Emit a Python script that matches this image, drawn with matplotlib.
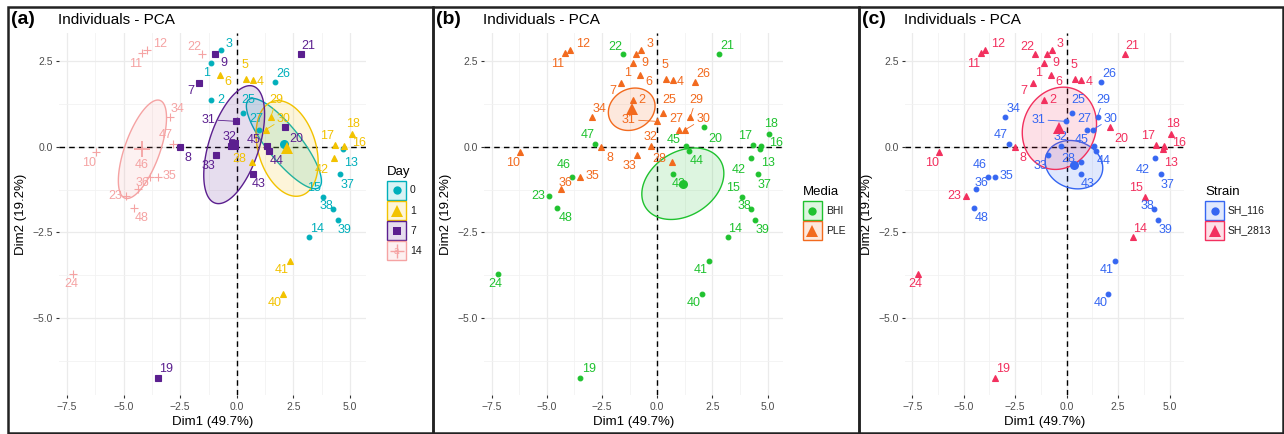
import numpy as np
import matplotlib
matplotlib.use("Agg")
import matplotlib.pyplot as plt
from matplotlib.patches import Polygon, Rectangle
from matplotlib.lines import Line2D

plt.rcParams["font.family"] = ["Liberation Sans", "DejaVu Sans"]

# PCA individuals (coordinates)
sample_ids = list(range(1, 49))
dim1 = [-1.12, -1.12, -0.72, 0.70, 0.42, -0.76, -1.65, -2.53, -0.96, -6.20,
        -4.18, -3.95, 4.68, 3.20, 3.82, 4.72, 4.35, 5.07, -3.48, 2.13,
        2.82, -1.55, -4.90, -7.22, 0.26, 1.69, 0.98, 0.68, 1.50, 1.28,
        -0.03, -0.27, -0.92, -2.97, -3.50, -4.38, 4.57, 4.23, 4.45, 2.03,
        2.36, 4.27, 0.71, 1.44, 1.32, -3.84, -2.80, -4.52]
dim2 = [2.45, 1.37, 2.83, 1.94, 1.98, 2.08, 1.87, -0.02, 2.71, -0.15,
        2.73, 2.81, -0.08, -2.62, -1.48, 0.01, 0.04, 0.37, -6.75, 0.58,
        2.69, 2.69, -1.45, -3.70, 0.99, 1.90, 0.50, -0.44, 0.87, 0.50,
        0.74, 0.03, -0.24, 0.88, -0.87, -1.24, -0.80, -1.82, -2.14, -4.28,
        -3.33, -0.34, -0.79, -0.11, 0.02, -0.89, 0.09, -1.79]

day = ["0", "0", "0", "1", "1", "1", "7", "7", "7", "14", "14", "14"] * 4
media = ["PLE"] * 12 + ["BHI"] * 12 + ["PLE"] * 12 + ["BHI"] * 12
strain = ["SH_2813"] * 24 + ["SH_116"] * 24

day_levels = ["0", "1", "7", "14"]
media_levels = ["BHI", "PLE"]
strain_levels = ["SH_116", "SH_2813"]

# label offsets (in reference pixels at 3x zoom, y pointing down)
LABEL_OFFSET = {
    1: (-14, 31), 2: (29, 0), 3: (25, -18), 4: (23, 5), 5: (-4, -40),
    6: (25, 19), 7: (-25, 25), 8: (25, 31), 9: (26, 27), 10: (-22, 32),
    11: (-21, 34), 12: (38, -20), 13: (23, 40), 14: (22, -24), 15: (-27, -28),
    16: (45, -10), 17: (-25, -27), 18: (5, -30), 19: (25, -27), 20: (33, 37),
    21: (23, -26), 22: (-22, -23), 23: (-33, -1), 24: (-7, 31), 25: (18, -37),
    26: (25, -23), 27: (-7, -33), 28: (-38, -7), 29: (17, -52), 30: (54, -33),
    31: (-83, -5), 32: (-3, -27), 33: (-22, 33), 34: (24, -23), 35: (36, -2),
    36: (16, -20), 37: (20, 31), 38: (-19, -8), 39: (21, 29), 40: (-24, 29),
    41: (-26, 28), 42: (-37, 34), 43: (18, 31), 44: (22, 30), 45: (-38, -18),
    46: (-25, -38), 47: (-24, -27), 48: (23, 29),
}
SEGMENT_LABELS = {29, 30, 31}

W, H = 1284, 434
XLIM = (-7.85, 5.70)
YLIM = (-7.25, 3.31)


def px(x, y):
    return x / W, 1 - y / H


def conf_ellipse(x, y, level=0.95, n=120):
    x = np.asarray(x)
    y = np.asarray(y)
    cov = np.cov(x, y) / len(x)
    t = np.sqrt(-2 * np.log(1 - level))
    vals, vecs = np.linalg.eigh(cov)
    a = np.linspace(0, 2 * np.pi, n)
    circ = np.vstack([np.cos(a), np.sin(a)])
    pts = vecs @ (np.sqrt(vals)[:, None] * circ) * t
    return np.column_stack([x.mean() + pts[0], y.mean() + pts[1]])


MARK = {
    "o": dict(ms=3.4, big=6.5, mew=0),
    "^": dict(ms=4.4, big=8.5, mew=0),
    "s": dict(ms=3.8, big=6.5, mew=0),
    "+": dict(ms=6.0, big=11, mew=0.8),
}

panels = [
    dict(letter="(a)", frame=(8, 433), left=59, right=366, groups=day,
         levels=day_levels,
         colors=["#00AFBB", "#F2C200", "#5B1F8F", "#F5A3A3"],
         markers=["o", "^", "s", "+"], title="Day", leg=(387, 172)),
    dict(letter="(b)", frame=(433, 859), left=484, right=783, groups=media,
         levels=media_levels, colors=["#1FC22F", "#F26A1E"],
         markers=["o", "^"], title="Media", leg=(803, 192)),
    dict(letter="(c)", frame=(859, 1283), left=905, right=1184, groups=strain,
         levels=strain_levels, colors=["#3566F2", "#F2305E"],
         markers=["o", "^"], title="Strain", leg=(1205, 192)),
]

fig = plt.figure(figsize=(W / 100, H / 100), dpi=100)

top_px, bot_px = 33.2, 395.4
for p in panels:
    # panel frame
    x0, x1 = p["frame"]
    fig.add_artist(Rectangle(px(x0, 433), (x1 - x0) / W, 426 / H,
                             transform=fig.transFigure, fill=False,
                             edgecolor="#222222", lw=1.8))

    ax = fig.add_axes([p["left"] / W, 1 - bot_px / H,
                       (p["right"] - p["left"]) / W, (bot_px - top_px) / H])
    ax.set_xlim(XLIM)
    ax.set_ylim(YLIM)
    for s in ax.spines.values():
        s.set_visible(False)
    ax.set_xticks([-7.5, -5.0, -2.5, 0.0, 2.5, 5.0])
    ax.set_yticks([-5.0, -2.5, 0.0, 2.5])
    ax.set_xticks([-6.25, -3.75, -1.25, 1.25, 3.75], minor=True)
    ax.set_yticks([-6.25, -3.75, -1.25, 1.25], minor=True)
    ax.grid(which="major", color="#EBEBEB", lw=0.9)
    ax.grid(which="minor", color="#F2F2F2", lw=0.6)
    ax.set_axisbelow(True)
    ax.tick_params(which="major", length=2.5, width=0.8, color="#333333",
                   labelsize=7.5, labelcolor="#4D4D4D", pad=2)
    ax.tick_params(which="minor", length=0)
    ax.set_xlabel("Dim1 (49.7%)", fontsize=9.5, labelpad=3)
    ax.set_ylabel("Dim2 (19.2%)", fontsize=9.5, labelpad=4)
    ax.axhline(0, color="black", ls=(0, (4, 3)), lw=1.0, zorder=2)
    ax.axvline(0, color="black", ls=(0, (4, 3)), lw=1.0, zorder=2)

    groups = np.array(p["groups"])
    x = np.array(dim1)
    y = np.array(dim2)
    col_of = dict(zip(p["levels"], p["colors"]))

    # confidence ellipses
    for lev, c in zip(p["levels"], p["colors"]):
        m = groups == lev
        ell = conf_ellipse(x[m], y[m])
        ax.add_patch(Polygon(ell, closed=True, facecolor=c, alpha=0.15,
                             edgecolor="none", zorder=3))
        ax.add_patch(Polygon(ell, closed=True, fill=False, edgecolor=c,
                             lw=1.0, zorder=3))

    # individual points
    for lev, c, mk in zip(p["levels"], p["colors"], p["markers"]):
        m = groups == lev
        ax.plot(x[m], y[m], ls="none", marker=mk, color=c,
                ms=MARK[mk]["ms"], mew=MARK[mk]["mew"] or 0.8, zorder=4)

    # labels
    for i, sid in enumerate(sample_ids):
        c = col_of[groups[i]]
        dx, dy = LABEL_OFFSET[sid]
        kw = {}
        if sid in SEGMENT_LABELS:
            kw["arrowprops"] = dict(arrowstyle="-", color=c, lw=0.6,
                                    shrinkA=0, shrinkB=1)
        ax.annotate(str(sid), (x[i], y[i]), xytext=(dx * 0.24, -dy * 0.24),
                    textcoords="offset points", ha="center", va="center",
                    fontsize=9, color=c, zorder=5, **kw)

    # group centroids
    for lev, c, mk in zip(p["levels"], p["colors"], p["markers"]):
        m = groups == lev
        ax.plot(x[m].mean(), y[m].mean(), ls="none", marker=mk, color=c,
                ms=MARK[mk]["big"], mew=1.3 if mk == "+" else 0, zorder=6)

    # titles
    fig.text(*px(p["left"] - 1, 20), "Individuals - PCA", fontsize=11,
             ha="left", va="center")
    fig.text(*px(x0 + 3, 20), p["letter"], fontsize=14, fontweight="bold",
             ha="left", va="center")

    # legend
    lx, ly = p["leg"]
    fig.text(*px(lx, ly), p["title"], fontsize=9.5, ha="left", va="center")
    for k, (lev, c, mk) in enumerate(zip(p["levels"], p["colors"],
                                         p["markers"])):
        ktop = ly + 9 + 20 * k
        fig.add_artist(Rectangle(px(lx, ktop + 19), 19 / W, 19 / H,
                                 transform=fig.transFigure, facecolor=c,
                                 alpha=0.15, edgecolor="none"))
        fig.add_artist(Rectangle(px(lx, ktop + 19), 19 / W, 19 / H,
                                 transform=fig.transFigure, fill=False,
                                 edgecolor=c, lw=1.0))
        cx, cy = px(lx + 9.5, ktop + 9.5)
        fig.add_artist(Line2D([cx], [cy], transform=fig.transFigure,
                              ls="none", marker=mk, color=c,
                              ms=MARK[mk]["big"] - 0.5,
                              mew=1.0 if mk == "+" else 0))
        if mk == "+":
            fig.text(cx, cy, "a", fontsize=7, color=c, ha="center",
                     va="center")
        fig.text(*px(lx + 23, ktop + 9.5), lev, fontsize=7.5,
                 ha="left", va="center", color="#1A1A1A")

fig.savefig("out.png", dpi=100)
